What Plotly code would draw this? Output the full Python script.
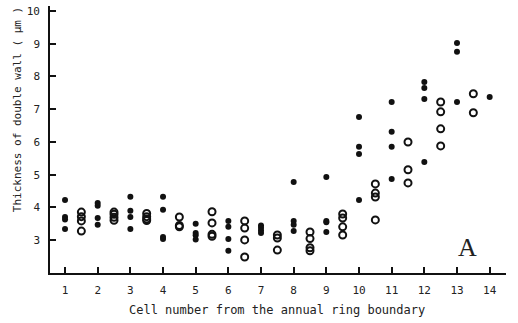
import plotly.graph_objects as go

# Filled dots (integer cell numbers)
filled_x = [1, 1, 1, 1,
            2, 2, 2, 2,
            3, 3, 3, 3,
            4, 4, 4, 4,
            5, 5, 5, 5,
            6, 6, 6, 6,
            7, 7, 7, 7,
            8, 8, 8, 8,
            9, 9, 9, 9,
            10, 10, 10, 10,
            11, 11, 11, 11,
            12, 12, 12, 12,
            13, 13, 13,
            14]
filled_y = [4.23, 3.71, 3.63, 3.34,
            4.14, 4.05, 3.68, 3.47,
            4.33, 3.90, 3.71, 3.34,
            4.33, 3.93, 3.10, 3.04,
            3.50, 3.22, 3.15, 3.02,
            3.59, 3.41, 3.04, 2.68,
            3.45, 3.38, 3.30, 3.22,
            4.78, 3.59, 3.47, 3.28,
            4.93, 3.59, 3.55, 3.25,
            6.76, 5.85, 5.63, 4.23,
            7.22, 6.31, 5.85, 4.87,
            7.83, 7.65, 7.31, 5.39,
            9.02, 8.75, 7.22,
            7.37]

# Open circles (half cell numbers)
open_x = [1.5, 1.5, 1.5, 1.5,
          2.5, 2.5, 2.5, 2.5,
          3.5, 3.5, 3.5, 3.5,
          4.5, 4.5, 4.5,
          5.5, 5.5, 5.5, 5.5,
          6.5, 6.5, 6.5, 6.5,
          7.5, 7.5, 7.5,
          8.5, 8.5, 8.5, 8.5,
          9.5, 9.5, 9.5, 9.5,
          10.5, 10.5, 10.5, 10.5,
          11.5, 11.5, 11.5,
          12.5, 12.5, 12.5, 12.5,
          13.5, 13.5]
open_y = [3.86, 3.72, 3.59, 3.28,
          3.86, 3.79, 3.70, 3.61,
          3.82, 3.72, 3.65, 3.60,
          3.71, 3.45, 3.41,
          3.87, 3.53, 3.18, 3.12,
          3.59, 3.37, 3.01, 2.49,
          3.16, 3.07, 2.70,
          3.25, 3.05, 2.77, 2.68,
          3.80, 3.68, 3.41, 3.16,
          4.72, 4.44, 4.32, 3.62,
          6.00, 5.15, 4.75,
          7.22, 6.92, 6.40, 5.88,
          7.47, 6.89]

x_ticks = list(range(1, 15))
y_ticks = list(range(3, 11))

fig = go.Figure()
fig.add_trace(go.Scatter(x=filled_x, y=filled_y, mode="markers",
                         marker=dict(symbol="circle", size=6, color="#111111"),
                         showlegend=False))
fig.add_trace(go.Scatter(x=open_x, y=open_y, mode="markers",
                         marker=dict(symbol="circle-open", size=7, color="#111111",
                                     line=dict(width=2, color="#111111")),
                         showlegend=False))

tickfont = dict(family="DejaVu Sans Mono", size=11, color="#222222")
fig.update_layout(
    width=518, height=323,
    margin=dict(l=50, r=12, t=6, b=50),
    paper_bgcolor="white", plot_bgcolor="white",
    xaxis=dict(range=[0.54, 14.5], tickvals=x_ticks, ticktext=[str(v) for v in x_ticks],
               showgrid=False, zeroline=False, showline=True, linecolor="#111111",
               linewidth=1.6, ticks="inside", ticklen=6, tickwidth=1.5,
               tickcolor="#111111", tickfont=tickfont, ticklabelstandoff=6),
    yaxis=dict(range=[2, 10.15], tickvals=y_ticks, ticktext=[str(v) for v in y_ticks],
               showgrid=False, zeroline=False, showline=True, linecolor="#111111",
               linewidth=1.6, ticks="inside", ticklen=6, tickwidth=1.5,
               tickcolor="#111111", tickfont=tickfont, ticklabelstandoff=6),
    annotations=[
        dict(text="Thickness of double wall ( μm )", xref="paper", yref="paper",
             x=0, y=0.61, xanchor="center", yanchor="middle", xshift=-33,
             textangle=-90, showarrow=False,
             font=dict(family="DejaVu Sans Mono", size=11, color="#222222")),
        dict(text="Cell number from the annual ring boundary", xref="paper", yref="paper",
             x=0.497, y=0, xanchor="center", yanchor="middle", yshift=-37,
             showarrow=False,
             font=dict(family="DejaVu Sans Mono", size=12, color="#222222")),
        dict(text="A", xref="paper", yref="paper", x=0.915, y=0.095,
             xanchor="center", yanchor="middle", showarrow=False,
             font=dict(family="Liberation Serif", size=26, color="#222222")),
    ],
)

fig.write_html("out.html")
